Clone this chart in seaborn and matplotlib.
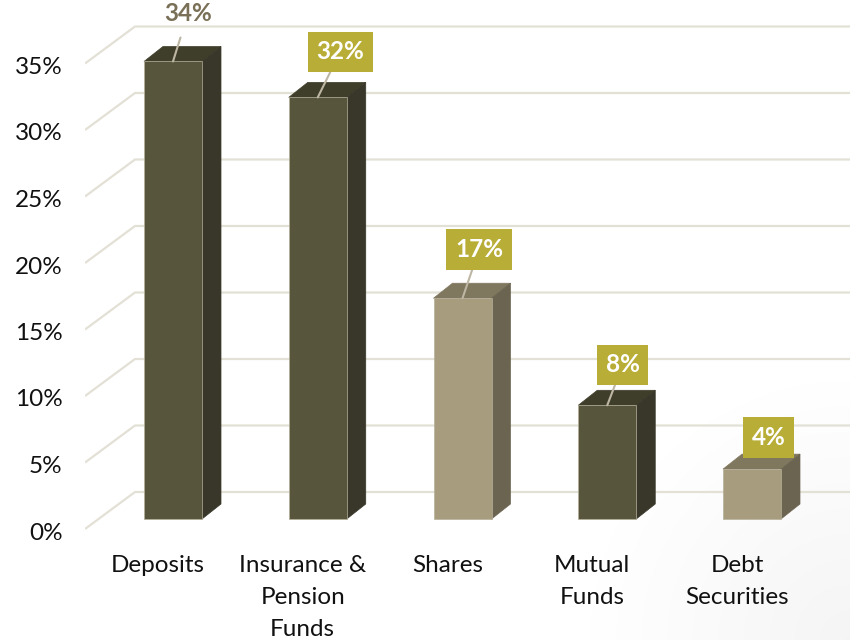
import matplotlib
matplotlib.use("Agg")
import matplotlib.pyplot as plt
from matplotlib.patches import Polygon
from matplotlib.transforms import ScaledTranslation
import numpy as np
import pandas as pd
import seaborn as sns

# chart values
categories = ["Deposits", "Insurance &\nPension\nFunds", "Shares", "Mutual\nFunds", "Debt\nSecurities"]
shares = [34.4, 31.7, 16.6, 8.55, 3.75]
share_labels = ["34%", "32%", "17%", "8%", "4%"]
y_ticks = [0, 5, 10, 15, 20, 25, 30, 35]
y_tick_labels = ["0%", "5%", "10%", "15%", "20%", "25%", "30%", "35%"]

# colours of the three visible faces, per bar
front_colors = ["#57553B", "#57553B", "#A89C7E", "#57553B", "#A89C7E"]
top_colors = ["#3F3E2A", "#3F3E2A", "#80775F", "#3F3E2A", "#80775F"]
side_colors = ["#38372A", "#38372A", "#6B6450", "#38372A", "#6B6450"]

# where each label sits relative to the top of its bar, in pixels
label_offsets = [(15, 48), (22.5, 45.5), (16.5, 48.5), (15.5, 40.5), (16.5, 31.5)]
boxed = [False, True, True, True, True]
has_leader = [True, True, True, True, False]

# layout in pixels
FIG_W, FIG_H = 850, 640
AX_LEFT, AX_BOTTOM = 85, 540
FIRST_BAR_X = 173
PX_PER_CAT = 144.75
BASE_Y = 519
PX_PER_PCT = 13.3
DEPTH_X, DEPTH_Y = 19, 15
GRID_COLOR = "#E3E0D6"
FONT = "Lato"
FONT_SIZE = 17.5


def dx(pixels):
    return pixels / PX_PER_CAT


def dy(pixels):
    return pixels / PX_PER_PCT


def px_to_x(pixels):
    return (pixels - FIRST_BAR_X) / PX_PER_CAT


def draw_corner_shade(fig):
    # The slide background goes faintly grey towards the bottom right corner
    yy, xx = np.mgrid[0:FIG_H, 0:FIG_W]
    dist = np.hypot(FIG_W - xx, FIG_H - yy)
    shade = 1 - 0.04 * np.clip(1 - dist / 260, 0, 1)
    fig.figimage(np.dstack([shade, shade, shade]), cmap=None, zorder=-1, origin="upper")


def draw_grid(ax):
    # Floor and wall lines: a short slanted piece, then the long flat one
    for tick in y_ticks:
        ax.plot([px_to_x(AX_LEFT), px_to_x(135), px_to_x(FIG_W)],
                [tick - dy(10), tick + dy(27), tick + dy(27)],
                color=GRID_COLOR, lw=1.6, zorder=0, solid_capstyle="butt")


def draw_bar_sides(ax, half_width):
    # The bar's top and right faces, worked out from its value
    for i, value in enumerate(shares):
        left, right = i - half_width, i + half_width
        top = Polygon([(left, value), (right, value),
                       (right + dx(DEPTH_X), value + dy(DEPTH_Y)),
                       (left + dx(DEPTH_X), value + dy(DEPTH_Y))],
                      facecolor=top_colors[i], edgecolor=top_colors[i], lw=0.5, zorder=3)
        side = Polygon([(right, 0), (right + dx(DEPTH_X), dy(DEPTH_Y)),
                        (right + dx(DEPTH_X), value + dy(DEPTH_Y)), (right, value)],
                       facecolor=side_colors[i], edgecolor=side_colors[i], lw=0.5, zorder=3)
        ax.add_patch(top)
        ax.add_patch(side)


def draw_labels(ax):
    for i, value in enumerate(shares):
        # the unboxed label keeps a small gap between its text and the leader
        arrow = None
        if has_leader[i]:
            arrow = dict(arrowstyle="-", color="#BDB6A3", lw=1.5, shrinkA=0 if boxed[i] else 7, shrinkB=0)
        ax.annotate(share_labels[i], xy=(i, value), xytext=label_offsets[i],
                    textcoords="offset pixels", ha="center", va="center",
                    fontsize=FONT_SIZE, fontweight="bold", family=FONT,
                    color="white" if boxed[i] else "#7A7057",
                    bbox=dict(boxstyle="square,pad=0.36", fc="#B8AD36", ec="none") if boxed[i] else None,
                    arrowprops=arrow, zorder=6)


def main():
    sns.set_theme(style="white")
    plt.rcParams["font.family"] = FONT

    fig = plt.figure(figsize=(FIG_W / 100, FIG_H / 100), dpi=100)
    draw_corner_shade(fig)
    ax = fig.add_axes([AX_LEFT / FIG_W, (FIG_H - AX_BOTTOM) / FIG_H,
                       (FIG_W - AX_LEFT) / FIG_W, AX_BOTTOM / FIG_H])
    ax.patch.set_alpha(0)

    df = pd.DataFrame({"category": categories, "share": shares})
    bar_width = 58 / PX_PER_CAT
    sns.barplot(data=df, x="category", y="share", hue="category", palette=front_colors,
                width=bar_width, dodge=False, legend=False, saturation=1,
                edgecolor="#B5B09A", linewidth=0.5, ax=ax, zorder=4)

    draw_grid(ax)
    draw_bar_sides(ax, bar_width / 2)
    draw_labels(ax)

    ax.set_xlim(px_to_x(AX_LEFT), px_to_x(FIG_W))
    ax.set_ylim(dy(BASE_Y - AX_BOTTOM), dy(BASE_Y))
    ax.set_xlabel("")
    ax.set_ylabel("")
    sns.despine(ax=ax, left=True, bottom=True, top=True, right=True)

    # Tick labels: the 3D look pushes them off the bar positions
    ax.set_yticks(y_ticks, y_tick_labels)
    ax.tick_params(axis="both", length=0, labelsize=FONT_SIZE, colors="#111111")
    ax.tick_params(axis="y", pad=16)
    ax.tick_params(axis="x", pad=11)
    for label in ax.get_yticklabels():
        label.set_transform(label.get_transform() + ScaledTranslation(0, -12 / 100, fig.dpi_scale_trans))
    for label in ax.get_xticklabels():
        label.set_transform(label.get_transform() + ScaledTranslation(-15 / 100, 0, fig.dpi_scale_trans))
        label.set_linespacing(1.63)

    fig.savefig("out.png", dpi=100)
    plt.close(fig)


if __name__ == "__main__":
    main()
